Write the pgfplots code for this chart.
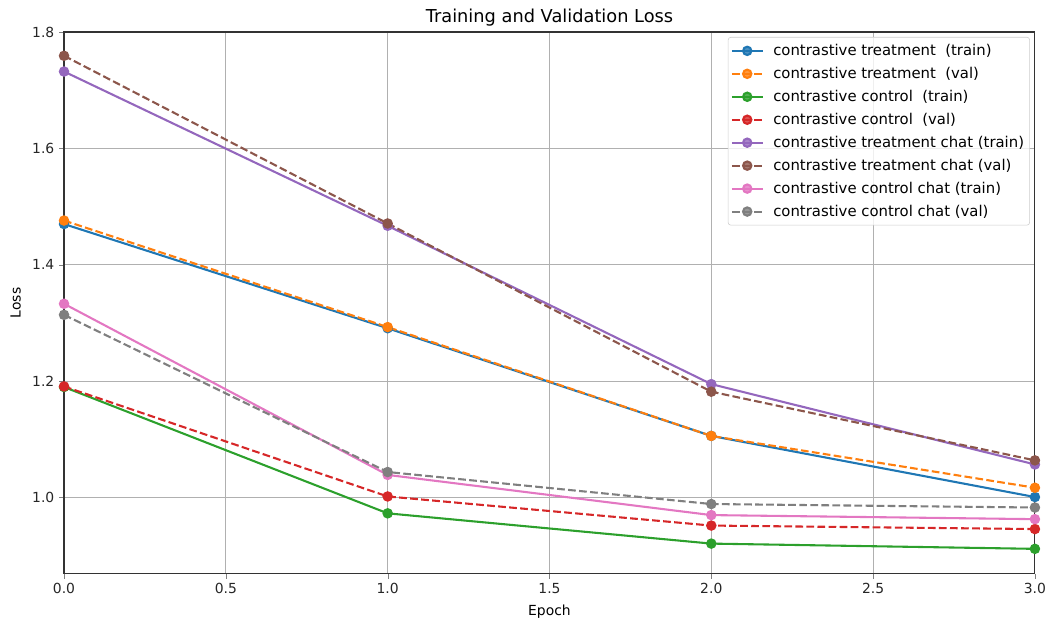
\documentclass[border=0pt]{standalone}
\usepackage{pgfplots}
\pgfplotsset{compat=1.18}
\usepackage{fontspec}
\setmainfont{DejaVu Sans}
\setsansfont{DejaVu Sans}

\definecolor{c0}{HTML}{1F77B4}
\definecolor{c1}{HTML}{FF7F0E}
\definecolor{c2}{HTML}{2CA02C}
\definecolor{c3}{HTML}{D62728}
\definecolor{c4}{HTML}{9467BD}
\definecolor{c5}{HTML}{8C564B}
\definecolor{c6}{HTML}{E377C2}
\definecolor{c7}{HTML}{7F7F7F}

\begin{document}
\begin{tikzpicture}
  % page frame: 1047x618 px at 0.72pt per px, axis box at (64,32)-(1035,574) px
  \useasboundingbox (-46.1pt,-31.7pt) rectangle (707.7pt,413pt);
  \begin{axis}[
      at={(0,0)}, anchor=south west,
      scale only axis,
      width=699pt,
      height=390pt,
      xmin=0, xmax=3,
      ymin=0.8694, ymax=1.8,
      xtick={0,0.5,1,1.5,2,2.5,3},
      ytick={1.0,1.2,1.4,1.6,1.8},
      /pgf/number format/.cd, fixed, fixed zerofill, precision=1, assume math mode=true,
      /pgfplots/.cd,
      tick label style={font=\fontsize{10}{12}\selectfont, color=black!85},
      tick align=outside,
      tick pos=left,
      major tick length=3.5pt,
      axis line style={line width=0.8pt, black!80},
      grid=major,
      major grid style={line width=0.8pt, color={rgb,255:red,176;green,176;blue,176}},
      title={Training and Validation Loss},
      title style={font=\fontsize{12.8}{15}\selectfont, yshift=-5.5pt},
      xlabel={Epoch},
      ylabel={Loss},
      label style={font=\fontsize{10}{12}\selectfont},
      xlabel style={yshift=-1pt},
      ylabel style={yshift=1.3pt},
      legend cell align=left,
      legend style={font=\fontsize{10.7}{12.8}\selectfont, draw={rgb,255:red,204;green,204;blue,204},
        rounded corners=2pt, at={(1,1)}, xshift=-3.6pt, yshift=-3.6pt, anchor=north east,
        inner xsep=2pt, inner ysep=3pt, row sep=2.9pt, column sep=5pt,
        fill=white, fill opacity=0.8, text opacity=1},
      legend image code/.code={
        \draw[mark repeat=2, mark phase=2] plot coordinates {(0pt,0pt) (11pt,0pt) (22pt,0pt)};
      },
      every axis plot/.append style={line width=1.5pt, mark=*, mark size=3pt,
        mark options={solid}},
    ]

    \addplot[c0] coordinates {(0,1.470) (1,1.291) (2,1.106) (3,1.001)};
    \addplot[c1, dash pattern=on 5.55pt off 2.4pt] coordinates {(0,1.476) (1,1.293) (2,1.106) (3,1.017)};
    \addplot[c2] coordinates {(0,1.190) (1,0.973) (2,0.921) (3,0.912)};
    \addplot[c3, dash pattern=on 5.55pt off 2.4pt] coordinates {(0,1.191) (1,1.002) (2,0.952) (3,0.946)};
    \addplot[c4] coordinates {(0,1.732) (1,1.467) (2,1.195) (3,1.057)};
    \addplot[c5, dash pattern=on 5.55pt off 2.4pt] coordinates {(0,1.759) (1,1.471) (2,1.182) (3,1.064)};
    \addplot[c6] coordinates {(0,1.333) (1,1.039) (2,0.970) (3,0.963)};
    \addplot[c7, dash pattern=on 5.55pt off 2.4pt] coordinates {(0,1.314) (1,1.044) (2,0.989) (3,0.983)};

    \legend{contrastive treatment\ \ (train), contrastive treatment\ \ (val),
      contrastive control\ \ (train), contrastive control\ \ (val),
      contrastive treatment chat (train), contrastive treatment chat (val),
      contrastive control chat (train), contrastive control chat (val)}
  \end{axis}
\end{tikzpicture}
\end{document}
